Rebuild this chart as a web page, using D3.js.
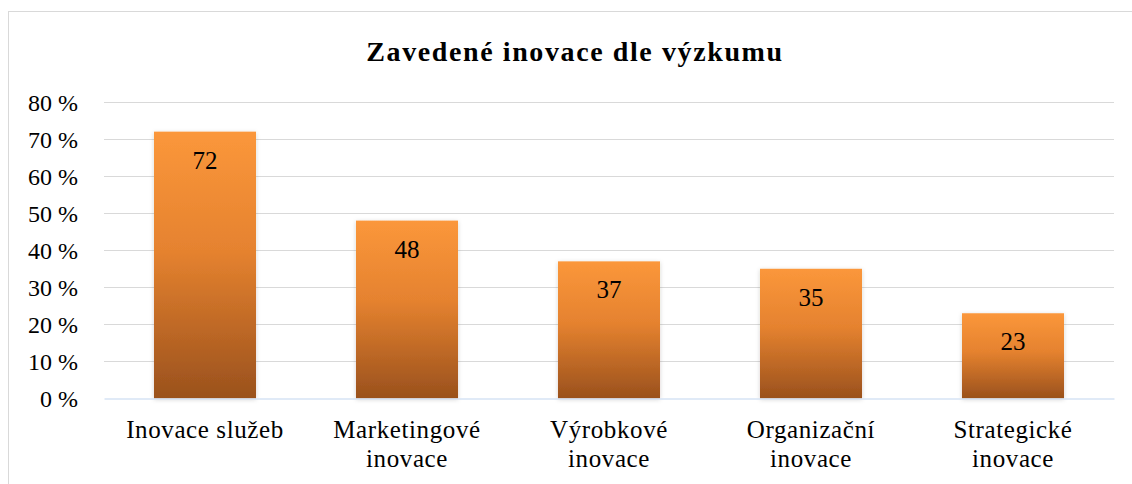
<!DOCTYPE html>
<html><head><meta charset="utf-8">
<script src="https://cdn.jsdelivr.net/npm/d3@7"></script>
</head>
<body style="margin:0;padding:0;background:#fff;">
<svg id="chart" width="1132" height="484" style="display:block;"></svg>
<script>
const title = "Zavedené inovace dle výzkumu";
const categories = [["Inovace služeb"],["Marketingové","inovace"],["Výrobkové","inovace"],["Organizační","inovace"],["Strategické","inovace"]];
const values = [72, 48, 37, 35, 23];
const yTicks = [0,10,20,30,40,50,60,70,80];

const FONT = "'Liberation Serif', 'Times New Roman', 'DejaVu Serif', serif";
const svg = d3.select("#chart");
const W = 1132, H = 484;
const m = {left:104, right:18, top:102, bottom:85.5};

// frame
svg.append("rect").attr("x",8.5).attr("y",11.5).attr("width",1140).attr("height",500)
  .attr("fill","#fff").attr("stroke","#d9d9d9").attr("stroke-width",1);

const defs = svg.append("defs");
const grad = defs.append("linearGradient").attr("id","barGrad").attr("x1",0).attr("y1",0).attr("x2",0).attr("y2",1);
grad.append("stop").attr("offset","0%").attr("stop-color","#fb973b");
grad.append("stop").attr("offset","45%").attr("stop-color","#e5822f");
grad.append("stop").attr("offset","100%").attr("stop-color","#9a511d");
const f = defs.append("filter").attr("id","sh").attr("x","-20%").attr("y","-20%").attr("width","140%").attr("height","140%");
f.append("feDropShadow").attr("dx",0).attr("dy",1).attr("stdDeviation",2).attr("flood-color","#000").attr("flood-opacity",0.18);

const x = d3.scaleBand().domain(d3.range(values.length)).range([m.left, W-m.right]).paddingInner(0.495).paddingOuter(0.2475);
const y = d3.scaleLinear().domain([0,80]).range([H-m.bottom, m.top]);

// gridlines
svg.append("g").selectAll("line").data(yTicks.filter(d=>d>0)).join("line")
  .attr("x1",m.left).attr("x2",W-m.right)
  .attr("y1",d=>Math.round(y(d))+0.5).attr("y2",d=>Math.round(y(d))+0.5)
  .attr("stroke","#d9d9d9").attr("stroke-width",1);

// y labels
const yAxis = d3.axisLeft(y).tickValues(yTicks).tickSize(0).tickPadding(0).tickFormat(d=>d+" %");
const ya = svg.append("g").attr("transform","translate(78,0)").call(yAxis);
ya.attr("font-family",FONT).attr("font-size",24);
ya.select(".domain").remove();
ya.selectAll("text").style("font-family",FONT).style("font-size","24px").attr("dy",null)
  .attr("y",8).attr("fill","#000");

// bars
svg.append("g").selectAll("rect").data(values).join("rect")
  .attr("x",(d,i)=>x(i)).attr("width",x.bandwidth())
  .attr("y",d=>y(d)).attr("height",d=>y(0)-y(d))
  .attr("fill","url(#barGrad)").attr("filter","url(#sh)");

// baseline axis
const xAxis = d3.axisBottom(x).tickSize(0).tickFormat("");
const xa = svg.append("g").attr("transform",`translate(0,${y(0)})`).call(xAxis);
xa.select(".domain").attr("stroke","#d6e3f4").attr("stroke-width",1.5);

// value labels
svg.append("g").selectAll("text").data(values).join("text")
  .attr("x",(d,i)=>x(i)+x.bandwidth()/2).attr("y",d=>y(d)+37)
  .attr("text-anchor","middle").style("font-family",FONT).style("font-size","25px").text(d=>d);

// category labels
const cg = svg.append("g").selectAll("text").data(categories).join("text")
  .attr("text-anchor","middle").style("font-family",FONT).style("font-size","25px").style("letter-spacing","0.6px")
  .attr("x",(d,i)=>x(i)+x.bandwidth()/2).attr("y",437.5);
cg.selectAll("tspan").data(d=>d).join("tspan")
  .attr("x",function(){return this.parentNode.getAttribute("x");})
  .attr("dy",(d,i)=>i===0?0:29).text(d=>d);

// title
svg.append("text").attr("x",575).attr("y",61).attr("text-anchor","middle")
  .style("font-family",FONT).style("font-size","28px").style("font-weight","bold").style("letter-spacing","1.6px").text(title);
</script>
</body></html>
